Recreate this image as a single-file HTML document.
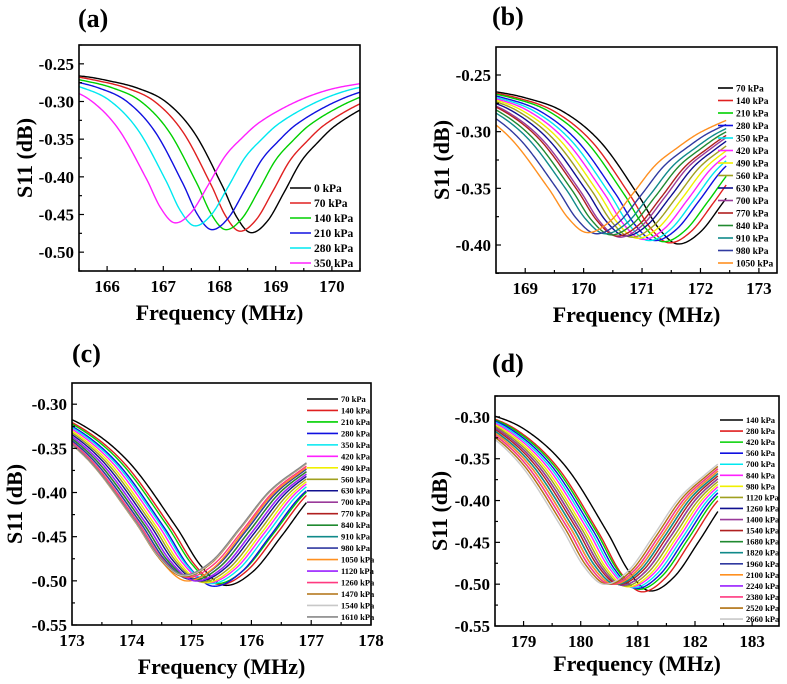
<!DOCTYPE html>
<html><head><meta charset="utf-8"><style>
html,body{margin:0;padding:0;background:#fff;}
svg{display:block;font-family:"Liberation Serif",serif;font-weight:bold;}
</style></head><body>
<svg id="fig" width="787" height="684" viewBox="0 0 787 684" xmlns="http://www.w3.org/2000/svg"></svg>
<script>
// Shared resonance dip shape in panel (a)
const shapeDx   = [-6,-4,-3,-2.5,-2,-1.5,-1,-0.5,-0.25,0,0.3,0.6,0.9,1.2,1.5,2,2.5,3,4,6];
const shapeFrac = [0,0.01,0.03,0.06,0.105,0.19,0.38,0.71,0.9,1,0.93,0.75,0.56,0.44,0.34,0.23,0.15,0.10,0.05,0.01];

// Panel (a)
const labelsA  = ["0 kPa","70 kPa","140 kPa","210 kPa","280 kPa","350 kPa"];
const centersA = [168.55,168.35,168.1,167.85,167.55,167.2];
const minsA    = [-0.474,-0.472,-0.470,-0.470,-0.465,-0.461];
const baseA = -0.26, widthA = 1.0;
const xTicksA = [166,167,168,169,170];
const yTicksA = [-0.25,-0.30,-0.35,-0.40,-0.45,-0.50];

// Panel (b)
const labelsB  = ["70 kPa","140 kPa","210 kPa","280 kPa","350 kPa","420 kPa","490 kPa","560 kPa","630 kPa","700 kPa","770 kPa","840 kPa","910 kPa","980 kPa","1050 kPa"];
const centersB = [171.6,171.45,171.35,171.2,171.1,171.0,170.9,170.8,170.7,170.6,170.55,170.45,170.35,170.2,170.05];
const minsB    = [-0.399,-0.398,-0.397,-0.396,-0.396,-0.395,-0.394,-0.393,-0.392,-0.393,-0.392,-0.391,-0.390,-0.390,-0.389];
const baseB = -0.255, widthB = 1.3;
const xTicksB = [169,170,171,172,173];
const yTicksB = [-0.25,-0.30,-0.35,-0.40];

// Panel (c)
const labelsC  = ["70 kPa","140 kPa","210 kPa","280 kPa","350 kPa","420 kPa","490 kPa","560 kPa","630 kPa","700 kPa","770 kPa","840 kPa","910 kPa","980 kPa","1050 kPa","1120 kPa","1260 kPa","1470 kPa","1540 kPa","1610 kPa"];
const centersC = [175.55,175.45,175.4,175.35,175.3,175.25,175.2,175.15,175.1,175.05,175.0,175.0,174.95,174.95,174.9,175.05,174.9,174.85,174.85,174.85];
const minsC    = [-0.505,-0.504,-0.503,-0.506,-0.503,-0.502,-0.502,-0.501,-0.500,-0.500,-0.499,-0.499,-0.498,-0.498,-0.500,-0.500,-0.496,-0.495,-0.494,-0.493];
const baseC = -0.28, widthC = 1.6;
const xTicksC = [173,174,175,176,177,178];
const yTicksC = [-0.30,-0.35,-0.40,-0.45,-0.50,-0.55];

// Panel (d)
const labelsD  = ["140 kPa","280 kPa","420 kPa","560 kPa","700 kPa","840 kPa","980 kPa","1120 kPa","1260 kPa","1400 kPa","1540 kPa","1680 kPa","1820 kPa","1960 kPa","2100 kPa","2240 kPa","2380 kPa","2520 kPa","2660 kPa"];
const centersD = [181.2,181.05,181.0,180.95,180.9,180.85,180.8,180.75,180.7,180.7,180.65,180.6,180.6,180.55,180.55,180.5,180.5,180.45,180.4];
const minsD    = [-0.508,-0.509,-0.506,-0.505,-0.504,-0.503,-0.503,-0.502,-0.501,-0.501,-0.500,-0.500,-0.500,-0.500,-0.500,-0.500,-0.500,-0.500,-0.500];
const baseD = -0.27, widthD = 1.45;
const xTicksD = [179,180,181,182,183];
const yTicksD = [-0.30,-0.35,-0.40,-0.45,-0.50,-0.55];

const palette = ["#000000","#e02020","#00d000","#1010e0","#00e8f0","#ff20ff","#f0f000","#a0a020","#101090","#9a3a9a","#b02020","#208a30","#108a8a","#303aa0","#ff9020","#9a20ff","#ff3a80","#b07010","#c8c8c8","#888888"];

const NS = "http://www.w3.org/2000/svg";
const svg = document.getElementById('fig');
function mk(tag, attrs, parent){const e=document.createElementNS(NS,tag);for(const k in attrs)e.setAttribute(k,attrs[k]);(parent||svg).appendChild(e);return e;}

function shapeAt(dx){
  const n=shapeDx.length;
  if(dx<=shapeDx[0])return shapeFrac[0];
  if(dx>=shapeDx[n-1])return shapeFrac[n-1];
  let i=0;while(shapeDx[i+1]<dx)i++;
  const x0=shapeDx[i],x1=shapeDx[i+1],y0=shapeFrac[i],y1=shapeFrac[i+1];
  const h=x1-x0,t=(dx-x0)/h;
  const m=j=>{const a=Math.max(0,j-1),b=Math.min(n-1,j+1);return (shapeFrac[b]-shapeFrac[a])/(shapeDx[b]-shapeDx[a]);};
  const m0=m(i)*h,m1=m(i+1)*h,t2=t*t,t3=t2*t;
  return (2*t3-3*t2+1)*y0+(t3-2*t2+t)*m0+(-2*t3+3*t2)*y1+(t3-t2)*m1;
}

function panel(p){
  const g=mk('g',{});
  
  
  const X=v=>p.L+(v-p.x0)/(p.x1-p.x0)*(p.R-p.L);
  const Y=v=>p.T+(p.y1-v)/(p.y1-p.y0)*(p.B-p.T);
  const clipId='clip'+p.id;
  const cp=mk('clipPath',{id:clipId},g);mk('rect',{x:p.L,y:p.T,width:p.R-p.L,height:p.B-p.T},cp);
  const cg=mk('g',{'clip-path':'url(#'+clipId+')'},g);
  for(let s=0;s<p.centers.length;s++){
    let d='';
    for(let f=p.x0;f<=p.xEnd+1e-9;f+=0.02){
      const fr=shapeAt((f-p.centers[s])/p.width);
      const v=p.base-(p.base-p.mins[s])*fr;
      d+=(d?'L':'M')+X(f).toFixed(2)+','+Y(v).toFixed(2);
    }
    const path=mk('path',{d:d,fill:'none',stroke:palette[s],'stroke-width':1.4},cg);
    
    
  }
  const fr=mk('rect',{x:p.L,y:p.T,width:p.R-p.L,height:p.B-p.T,fill:'none',stroke:'#000','stroke-width':1.6},g);
  
  
  const xt=p.xTicks, step=xt[1]-xt[0];
  for(let v=xt[0]-step;v<=xt[xt.length-1]+step;v+=step/2){
    const x=X(v); if(x<p.L-0.5||x>p.R+0.5)continue;
    const major=Math.abs(v-Math.round(v))<1e-6;
    mk('line',{x1:x,x2:x,y1:p.B,y2:p.B-(major?5:3),stroke:'#000','stroke-width':1.2},g);
  }
  xt.forEach(v=>{
    const t=mk('text',{x:X(v),y:p.B+21,'text-anchor':'middle','font-size':17},g);t.textContent=v;
    
    
  });
  const yt=p.yTicks, ys=0.05;
  for(let v=p.y0;v<=p.y1+1e-9;v+=ys/2){
    const vv=Math.round(v*1000)/1000, y=Y(vv); if(y<p.T-0.5||y>p.B+0.5)continue;
    const major=Math.abs(vv*20-Math.round(vv*20))<1e-6;
    mk('line',{x1:p.L,x2:p.L+(major?5:3),y1:y,y2:y,stroke:'#000','stroke-width':1.2},g);
  }
  yt.forEach(v=>{
    const t=mk('text',{x:p.L-5,y:Y(v)+6,'text-anchor':'end','font-size':17},g);t.textContent=v.toFixed(2);
    
    
  });
  const xtitle=mk('text',{x:(p.L+p.R)/2,y:p.xtY,'text-anchor':'middle','font-size':22},g);xtitle.textContent='Frequency (MHz)';
  
  
  const ytitle=mk('text',{x:0,y:0,'text-anchor':'middle','font-size':22,transform:'translate('+p.ytX+','+((p.T+p.B)/2)+') rotate(-90)'},g);ytitle.textContent='S11 (dB)';
  
  
  const pl=mk('text',{x:p.plX,y:p.plY,'font-size':26},g);pl.textContent='('+p.id+')';
  
  
  const lg=mk('g',{},g);
  
  
  p.labels.forEach((lab,i)=>{
    const y=p.lgY+i*p.lgS;
    mk('line',{x1:p.lgX,x2:p.lgX+p.lgW,y1:y,y2:y,stroke:palette[i],'stroke-width':1.6},lg);
    const t=mk('text',{x:p.lgX+p.lgW+3,y:y+p.lgF*0.35,'font-size':p.lgF},lg);t.textContent=lab;
    
    
  });
}

panel({id:'a',labels:labelsA,centers:centersA,mins:minsA,base:baseA,width:widthA,xTicks:xTicksA,yTicks:yTicksA,
  L:79,R:360,T:45,B:271,x0:165.5,x1:170.5,xEnd:170.5,y0:-0.525,y1:-0.225,
  xtY:320,ytX:32,plX:78,plY:27,lgX:290,lgW:21,lgY:188,lgS:15,lgF:11.5});
panel({id:'b',labels:labelsB,centers:centersB,mins:minsB,base:baseB,width:widthB,xTicks:xTicksB,yTicks:yTicksB,
  L:496,R:777,T:47,B:273,x0:168.5,x1:173.31,xEnd:172.45,y0:-0.4247,y1:-0.2253,
  xtY:322,ytX:449,plX:492,plY:25,lgX:718,lgW:15,lgY:88,lgS:12.5,lgF:9.5});
panel({id:'c',labels:labelsC,centers:centersC,mins:minsC,base:baseC,width:widthC,xTicks:xTicksC,yTicks:yTicksC,
  L:72,R:371,T:383,B:625,x0:173,x1:178,xEnd:176.92,y0:-0.55,y1:-0.276,
  xtY:674,ytX:22,plX:72,plY:362,lgX:307,lgW:31,lgY:399,lgS:11.47,lgF:8.5});
panel({id:'d',labels:labelsD,centers:centersD,mins:minsD,base:baseD,width:widthD,xTicks:xTicksD,yTicks:yTicksD,
  L:495,R:779,T:396,B:626,x0:178.5,x1:183.47,xEnd:182.4,y0:-0.55,y1:-0.275,
  xtY:671,ytX:447,plX:492,plY:372,lgX:720,lgW:23,lgY:420,lgS:11.06,lgF:8.5});
</script>
</body></html>
